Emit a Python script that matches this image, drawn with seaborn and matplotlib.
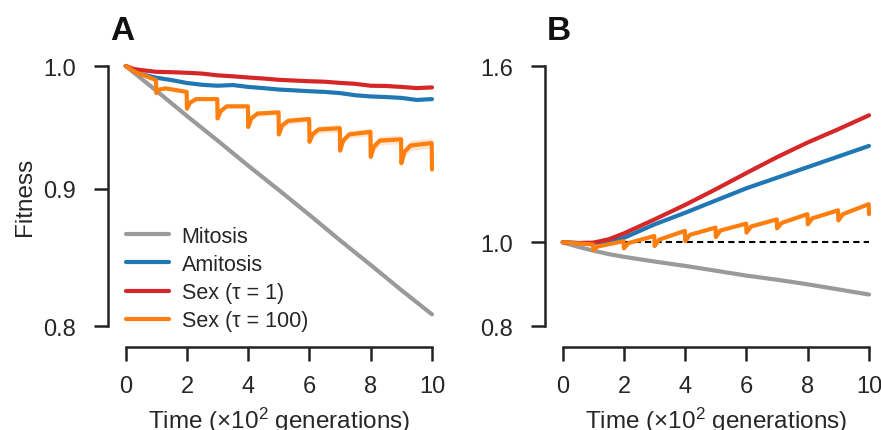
import numpy as np
import pandas as pd
import matplotlib
matplotlib.use("Agg")
import matplotlib.pyplot as plt
import seaborn as sns
from matplotlib.ticker import FixedLocator, FixedFormatter, NullLocator

# ---------------- data ----------------
series_labels = ["Mitosis", "Amitosis", "Sex (τ = 1)", "Sex (τ = 100)"]
series_colors = ["#9a9a9a", "#1f77b4", "#d62728", "#ff7f0e"]

x_ticks = [0, 2, 4, 6, 8, 10]
a_y_ticks = [0.8, 0.9, 1.0]
b_y_ticks = [0.8, 1.0, 1.6]

# Panel A
mito_a_t = [0, 1, 2, 3, 4, 5, 6, 7, 8, 9, 10]
mito_a = [1.000, 0.979, 0.958, 0.938, 0.918, 0.899, 0.880, 0.861, 0.843, 0.825, 0.808]

rb_a_t = [0, 0.25, 0.5, 1, 1.5, 2, 2.5, 3, 3.5, 4, 4.5, 5, 5.5, 6, 6.5, 7, 7.5, 8, 8.5, 9, 9.5, 10]
red_a = [1.000, 0.9975, 0.9965, 0.9950, 0.9947, 0.9942, 0.9935, 0.9920, 0.9912, 0.9902, 0.9893,
         0.9882, 0.9876, 0.9870, 0.9866, 0.9856, 0.9848, 0.9832, 0.9830, 0.9822, 0.9812, 0.9818]
blue_a = [1.000, 0.9960, 0.9930, 0.9900, 0.9880, 0.9855, 0.9840, 0.9832, 0.9838, 0.9822, 0.9812,
          0.9800, 0.9793, 0.9786, 0.9780, 0.9770, 0.9752, 0.9742, 0.9737, 0.9730, 0.9713, 0.9720]

orange_a_t = [0, 0.3, 0.99,
              1.0, 1.1, 1.3, 1.99,
              2.0, 2.1, 2.3, 2.99,
              3.0, 3.1, 3.3, 3.99,
              4.0, 4.1, 4.3, 4.99,
              5.0, 5.1, 5.3, 5.99,
              6.0, 6.1, 6.3, 6.99,
              7.0, 7.1, 7.3, 7.99,
              8.0, 8.1, 8.3, 8.99,
              9.0, 9.1, 9.3, 9.99,
              10.0]
orange_a = [1.000, 0.995, 0.988,
            0.977, 0.980, 0.981, 0.978,
            0.964, 0.969, 0.972, 0.972,
            0.956, 0.962, 0.966, 0.966,
            0.949, 0.956, 0.960, 0.961,
            0.943, 0.950, 0.954, 0.9555,
            0.937, 0.943, 0.947, 0.948,
            0.930, 0.938, 0.943, 0.945,
            0.925, 0.933, 0.938, 0.939,
            0.920, 0.929, 0.934, 0.936,
            0.915]
orange_a_band = [0.0005, 0.0008, 0.001, 0.0015, 0.002, 0.0025, 0.003, 0.003, 0.0035, 0.004, 0.004]

# Panel B
b_t = [0, 0.5, 1, 1.5, 2, 3, 4, 5, 6, 7, 8, 9, 10]
mito_b = [1.000, 0.988, 0.978, 0.969, 0.962, 0.950, 0.939, 0.927, 0.915, 0.905, 0.894, 0.882, 0.870]
blue_b = [1.000, 0.998, 0.998, 1.003, 1.012, 1.049, 1.082, 1.118, 1.155, 1.188, 1.222, 1.257, 1.293]
red_b = [1.000, 0.998, 0.999, 1.008, 1.024, 1.063, 1.105, 1.152, 1.203, 1.255, 1.305, 1.352, 1.403]

orange_b_t = [0, 0.5, 0.99,
              1.0, 1.15, 1.99,
              2.0, 2.15, 2.99,
              3.0, 3.15, 3.99,
              4.0, 4.15, 4.99,
              5.0, 5.15, 5.99,
              6.0, 6.15, 6.99,
              7.0, 7.15, 7.99,
              8.0, 8.15, 8.99,
              9.0, 9.15, 9.99,
              10.0]
orange_b = [1.000, 0.997, 0.994,
            0.979, 0.989, 1.003,
            0.984, 0.998, 1.017,
            0.990, 1.007, 1.031,
            1.003, 1.020, 1.040,
            1.014, 1.032, 1.051,
            1.026, 1.043, 1.063,
            1.038, 1.053, 1.078,
            1.049, 1.066, 1.089,
            1.060, 1.078, 1.107,
            1.078]

ref_t = [0.3, 10]
ref_y = [1.0, 1.0]

# ---------------- style ----------------
sns.set_theme(style="ticks")
plt.rcParams["font.family"] = ["Liberation Sans", "DejaVu Sans"]
plt.rcParams["mathtext.fontset"] = "custom"
plt.rcParams["mathtext.rm"] = "Liberation Sans"
plt.rcParams["mathtext.it"] = "Liberation Sans:italic"
text_color = "#262626"
plt.rcParams["text.color"] = text_color
plt.rcParams["axes.labelcolor"] = text_color
plt.rcParams["xtick.color"] = text_color
plt.rcParams["ytick.color"] = text_color

TICK_FS = 17
LABEL_FS = 17.5
LEG_FS = 15.5
TITLE_FS = 24

fig = plt.figure(figsize=(8.81, 4.31), dpi=100)
axA = fig.add_axes([125.7 / 881, 1 - 327 / 431, 306.3 / 881, 260 / 431])
axB = fig.add_axes([562.7 / 881, 1 - 327 / 431, 306.3 / 881, 260 / 431])

LW = 3.0

def plot_line(ax, t, y, color, label=None, z=3):
    sns.lineplot(x=t, y=y, ax=ax, color=color, lw=LW, label=label, estimator=None,
                 sort=False, zorder=z, clip_on=False, solid_joinstyle="round",
                 solid_capstyle="round")

# Panel A
axA.set_yscale("log")
oa_t = np.array(orange_a_t)
oa = np.array(orange_a)
band = np.array([orange_a_band[min(int(t), 10)] for t in oa_t])
axA.fill_between(oa_t, oa - band, oa + band, color=series_colors[3], alpha=0.2, lw=0, zorder=2)
plot_line(axA, mito_a_t, mito_a, series_colors[0], series_labels[0])
plot_line(axA, rb_a_t, blue_a, series_colors[1], series_labels[1])
plot_line(axA, rb_a_t, red_a, series_colors[2], series_labels[2])
plot_line(axA, orange_a_t, orange_a, series_colors[3], series_labels[3])

# Panel B
axB.set_yscale("log")
sns.lineplot(x=ref_t, y=ref_y, ax=axB, color="black", lw=1.5, dashes=False,
             linestyle=(0, (3, 2)), zorder=1)
plot_line(axB, b_t, mito_b, series_colors[0])
plot_line(axB, b_t, blue_b, series_colors[1])
plot_line(axB, b_t, red_b, series_colors[2])
plot_line(axB, orange_b_t, orange_b, series_colors[3])

for ax, yt, ylim in [(axA, a_y_ticks, (0.8, 1.0)), (axB, b_y_ticks, (0.8, 1.6))]:
    ax.set_xlim(0, 10)
    ax.set_ylim(*ylim)
    ax.yaxis.set_major_locator(FixedLocator(yt))
    ax.yaxis.set_major_formatter(FixedFormatter([f"{v:.1f}" for v in yt]))
    ax.yaxis.set_minor_locator(NullLocator())
    ax.set_xticks(x_ticks)
    ax.set_xticklabels([str(v) for v in x_ticks])
    sns.despine(ax=ax)
    ax.spines["left"].set_position(("outward", 13))
    ax.spines["bottom"].set_position(("outward", 15))
    ax.spines["left"].set_bounds(ylim[0], ylim[1])
    ax.spines["bottom"].set_bounds(0, 10)
    for s in ["left", "bottom"]:
        ax.spines[s].set_linewidth(1.8)
        ax.spines[s].set_color("#222222")
    ax.tick_params(axis="both", which="major", length=10, width=1.8, labelsize=TICK_FS,
                   color="#222222", direction="out")
    ax.tick_params(axis="x", pad=10)
    ax.tick_params(axis="y", pad=13)
    ax.set_xlabel(r"Time ($\times$10$^2$ generations)", fontsize=LABEL_FS, labelpad=6)
    ax.set_facecolor("white")

axA.set_ylabel("Fitness", fontsize=LABEL_FS, labelpad=5)
axB.set_ylabel("")

leg = axA.legend(loc="upper left", bbox_to_anchor=(0.0, 0.385), frameon=False,
                 fontsize=LEG_FS, handlelength=2.0, handletextpad=0.6, labelspacing=0.33,
                 borderpad=0, borderaxespad=0)
for h in leg.get_lines():
    h.set_linewidth(LW)

fig.text(110 / 881, 1 - 40 / 431, "A", fontsize=TITLE_FS, fontweight="bold", color="#111111",
         ha="left", va="baseline")
fig.text(547 / 881, 1 - 40 / 431, "B", fontsize=TITLE_FS, fontweight="bold", color="#111111",
         ha="left", va="baseline")

fig.savefig("out.png", dpi=100, facecolor="white")
